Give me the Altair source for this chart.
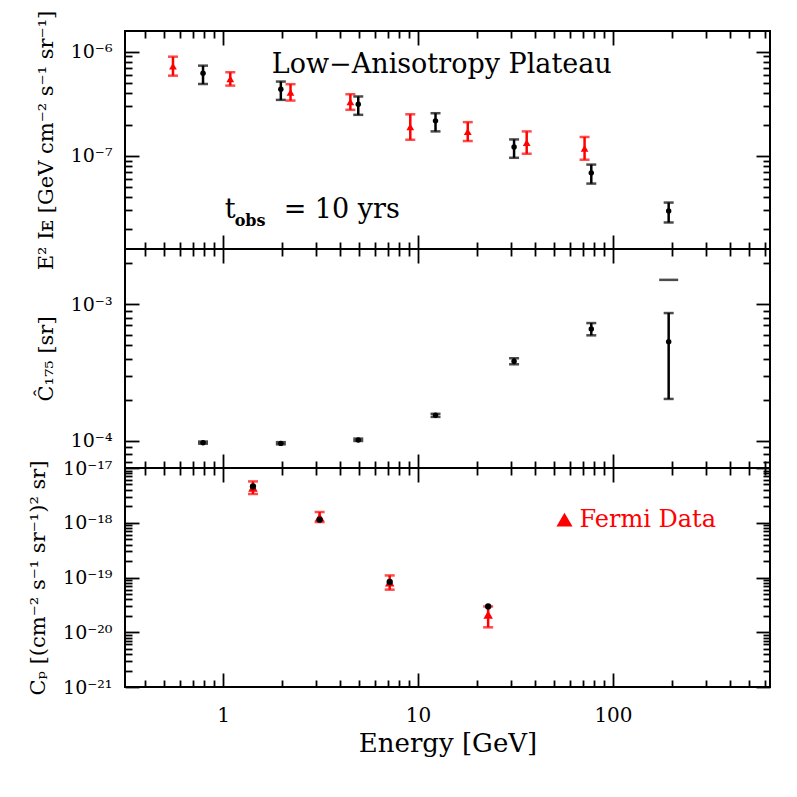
import math
import altair as alt
import pandas as pd

# ---------------- data ----------------
# Panel 1: E^2 I_E  [GeV cm^-2 s^-1 sr^-1]
int_black_E = [0.79, 1.98, 4.94, 12.3, 31.1, 77.4, 193.0]
int_black_val = [6.2e-7, 4.36e-7, 3.14e-7, 2.17e-7, 1.22e-7, 6.88e-8, 2.97e-8]
int_black_hi = [7.35e-7, 5.17e-7, 3.72e-7, 2.57e-7, 1.44e-7, 8.26e-8, 3.57e-8]
int_black_lo = [4.9e-7, 3.45e-7, 2.48e-7, 1.72e-7, 9.6e-8, 5.43e-8, 2.3e-8]

int_red_E = [0.554, 1.09, 2.22, 4.5, 9.13, 18.0, 36.1, 71.5]
int_red_val = [7.26e-7, 5.48e-7, 4.07e-7, 3.3e-7, 1.9e-7, 1.71e-7, 1.34e-7, 1.18e-7]
int_red_hi = [8.96e-7, 6.35e-7, 4.88e-7, 3.91e-7, 2.51e-7, 2.11e-7, 1.72e-7, 1.52e-7]
int_red_lo = [5.89e-7, 4.73e-7, 3.4e-7, 2.77e-7, 1.43e-7, 1.39e-7, 1.05e-7, 9.2e-8]

# Panel 2: C_175 [sr]
cl_E = [0.79, 1.98, 4.94, 12.3, 31.1, 77.4, 193.0]
cl_val = [9.72e-5, 9.6e-5, 1.017e-4, 1.54e-4, 3.83e-4, 6.59e-4, 5.33e-4]
cl_hi = [9.9e-5, 9.8e-5, 1.04e-4, 1.58e-4, 4.03e-4, 7.29e-4, 8.63e-4]
cl_lo = [9.55e-5, 9.45e-5, 1.0e-4, 1.5e-4, 3.64e-4, 5.93e-4, 2.03e-4]
cl_limit_E = [193.0]
cl_limit_val = [1.51e-3]

# Panel 3: C_P [(cm^-2 s^-1 sr^-1)^2 sr]
cp_E = [1.425, 3.13, 7.16, 22.9]
cp_black_val = [4.61e-18, 1.14e-18, 8.28e-20, 2.96e-20]
cp_red_val = [4.4e-18, 1.27e-18, 8.1e-20, 2.1e-20]
cp_red_hi = [5.69e-18, 1.57e-18, 1.09e-19, 2.96e-20]
cp_red_lo = [3.35e-18, 1.03e-18, 6.0e-20, 1.23e-20]

# tick values
x_major = [1, 10, 100]
p1_major = [1e-7, 1e-6]
p2_major = [1e-4, 1e-3]
p3_major = [1e-21, 1e-20, 1e-19, 1e-18, 1e-17]

# ---------------- styling ----------------
FONT = "DejaVu Serif"
RED = "#ff0000"
W = 645
X_DOMAIN = [0.3144, 638.6]
P1_DOMAIN = [1.28e-8, 1.58e-6]
P2_DOMAIN = [6.34e-5, 2.54e-3]
P3_DOMAIN = [1e-21, 1e-17]

xscale = alt.Scale(type="log", domain=X_DOMAIN)


def minors(lo, hi):
    vals = []
    for k in range(-23, 4):
        for m in range(2, 10):
            v = float(f"{m}e{k}")
            if lo <= v <= hi:
                vals.append(v)
    return vals


SUP = str.maketrans("0123456789-", "⁰¹²³⁴⁵⁶⁷⁸⁹⁻")


def sup_expr(vals):
    expr = "''"
    for v in vals:
        e = round(math.log10(v))
        expr = f"round(log(datum.value)/LN10) == {e} ? '10{str(e).translate(SUP)}' : " + expr
    return expr


TICK = dict(grid=False, domain=False, tickColor="black", tickWidth=1.8,
            labelFont=FONT, labelColor="black", titleFont=FONT,
            titleColor="black", titleFontWeight="normal")


def axis_layers(yscale, ymaj, ytitle, bottom_labels):
    ymin = minors(yscale.domain[0], yscale.domain[1])
    xmin = minors(X_DOMAIN[0], X_DOMAIN[1])
    ref = pd.DataFrame({"E": [1.0], "v": [ymaj[0]]})

    def lay(xaxis, yaxis):
        return alt.Chart(ref).mark_point(opacity=0).encode(
            x=alt.X("E:Q", scale=xscale, axis=xaxis),
            y=alt.Y("v:Q", scale=yscale, axis=yaxis),
        )

    if bottom_labels:
        bx = alt.Axis(orient="bottom", values=x_major, tickSize=14, offset=-14,
                      format="d", labelFontSize=20, labelPadding=18,
                      labelFlush=False, title="Energy [GeV]", titleFontSize=26,
                      titlePadding=5, **TICK)
    else:
        bx = alt.Axis(orient="bottom", values=x_major, tickSize=14, offset=-14,
                      labels=False, title=None, **TICK)
    ly = alt.Axis(orient="left", values=ymaj, tickSize=14, offset=-14,
                  labelExpr=sup_expr(ymaj), labelFontSize=19, labelPadding=13,
                  labelFlush=False, labelOverlap=False, title=ytitle,
                  titleFontSize=21, titlePadding=14, **TICK)
    return [
        lay(bx, ly),
        lay(alt.Axis(orient="bottom", values=xmin, tickSize=7, offset=-7, labels=False, title=None, **TICK),
            alt.Axis(orient="left", values=ymin, tickSize=7, offset=-7, labels=False, title=None, **TICK)),
        lay(alt.Axis(orient="top", values=x_major, tickSize=14, offset=-14, labels=False, title=None, **TICK),
            alt.Axis(orient="right", values=ymaj, tickSize=14, offset=-14, labels=False, title=None, **TICK)),
        lay(alt.Axis(orient="top", values=xmin, tickSize=7, offset=-7, labels=False, title=None, **TICK),
            alt.Axis(orient="right", values=ymin, tickSize=7, offset=-7, labels=False, title=None, **TICK)),
    ]


def errbars(yscale, E, lo, hi, color, cap=10, width=2.5):
    df = pd.DataFrame({"E": E, "lo": lo, "hi": hi})
    x = alt.X("E:Q", scale=xscale, axis=None)
    rule = alt.Chart(df).mark_rule(color=color, strokeWidth=width).encode(
        x=x, y=alt.Y("lo:Q", scale=yscale, axis=None), y2="hi:Q")
    c1 = alt.Chart(df).mark_tick(color=color, orient="horizontal", size=cap, thickness=width).encode(
        x=x, y=alt.Y("lo:Q", scale=yscale, axis=None))
    c2 = alt.Chart(df).mark_tick(color=color, orient="horizontal", size=cap, thickness=width).encode(
        x=x, y=alt.Y("hi:Q", scale=yscale, axis=None))
    return [rule, c1, c2]


def points(yscale, E, v, color, shape, size):
    df = pd.DataFrame({"E": E, "v": v})
    return alt.Chart(df).mark_point(shape=shape, filled=True, size=size, color=color, opacity=1).encode(
        x=alt.X("E:Q", scale=xscale, axis=None),
        y=alt.Y("v:Q", scale=yscale, axis=None))


def text(yscale, E, v, label, size, color="black", dx=0, dy=0, weight="normal"):
    df = pd.DataFrame({"E": [E], "v": [v], "t": [label]})
    return alt.Chart(df).mark_text(font=FONT, fontSize=size, color=color, align="left",
                                   baseline="alphabetic", dx=dx, dy=dy, fontWeight=weight).encode(
        x=alt.X("E:Q", scale=xscale, axis=None),
        y=alt.Y("v:Q", scale=yscale, axis=None),
        text="t:N")


# ---------------- panel 1 ----------------
y1 = alt.Scale(type="log", domain=P1_DOMAIN)
p1_layers = axis_layers(y1, p1_major, "E² Iᴇ [GeV cm⁻² s⁻¹ sr⁻¹]", False)
p1_layers += errbars(y1, int_black_E, int_black_lo, int_black_hi, "black")
p1_layers.append(points(y1, int_black_E, int_black_val, "black", "circle", 30))
p1_layers += errbars(y1, int_red_E, int_red_lo, int_red_hi, RED)
p1_layers.append(points(y1, int_red_E, int_red_val, RED, "triangle-up", 60))
p1_layers.append(text(y1, 1.78, 6.2e-7, "Low−Anisotropy Plateau", 27))
p1_layers.append(text(y1, 1.02, 2.54e-8, "t", 27))
p1_layers.append(text(y1, 1.02, 2.54e-8, "obs", 16, dx=10, dy=8, weight="bold"))
p1_layers.append(text(y1, 1.02, 2.54e-8, "=  10  yrs", 27, dx=59))
p1 = alt.layer(*p1_layers).resolve_axis(x="independent", y="independent").properties(width=W, height=218)

# ---------------- panel 2 ----------------
y2 = alt.Scale(type="log", domain=P2_DOMAIN)
p2_layers = axis_layers(y2, p2_major, "Ĉ₁₇₅  [sr]", False)
p2_layers += errbars(y2, cl_E, cl_lo, cl_hi, "black")
p2_layers.append(points(y2, cl_E, cl_val, "black", "circle", 30))
lim = pd.DataFrame({"E": cl_limit_E, "v": cl_limit_val})
p2_layers.append(alt.Chart(lim).mark_tick(color="black", orient="horizontal", size=19, thickness=2.5).encode(
    x=alt.X("E:Q", scale=xscale, axis=None), y=alt.Y("v:Q", scale=y2, axis=None)))
p2 = alt.layer(*p2_layers).resolve_axis(x="independent", y="independent").properties(width=W, height=219)

# ---------------- panel 3 ----------------
y3 = alt.Scale(type="log", domain=P3_DOMAIN)
p3_layers = axis_layers(y3, p3_major, "Cₚ [(cm⁻² s⁻¹ sr⁻¹)² sr]", True)
p3_layers += errbars(y3, cp_E, cp_red_lo, cp_red_hi, RED)
p3_layers.append(points(y3, cp_E, cp_red_val, RED, "triangle-up", 90))
p3_layers.append(points(y3, cp_E, cp_black_val, "black", "circle", 40))
p3_layers.append(points(y3, [56.4], [1.14e-18], RED, "triangle-up", 260))
p3_layers.append(text(y3, 56.4, 1.14e-18, "Fermi Data", 24, color=RED, dx=15, dy=7))
p3 = alt.layer(*p3_layers).resolve_axis(x="independent", y="independent").properties(width=W, height=219)

chart = alt.vconcat(p1, p2, p3, spacing=0, bounds="flush").configure_view(
    stroke="black", strokeWidth=2
).properties(padding={"left": 18, "top": 1, "right": 5, "bottom": 5}, background="white")

chart.save("out.html", embed_options={"renderer": "svg", "actions": False})
